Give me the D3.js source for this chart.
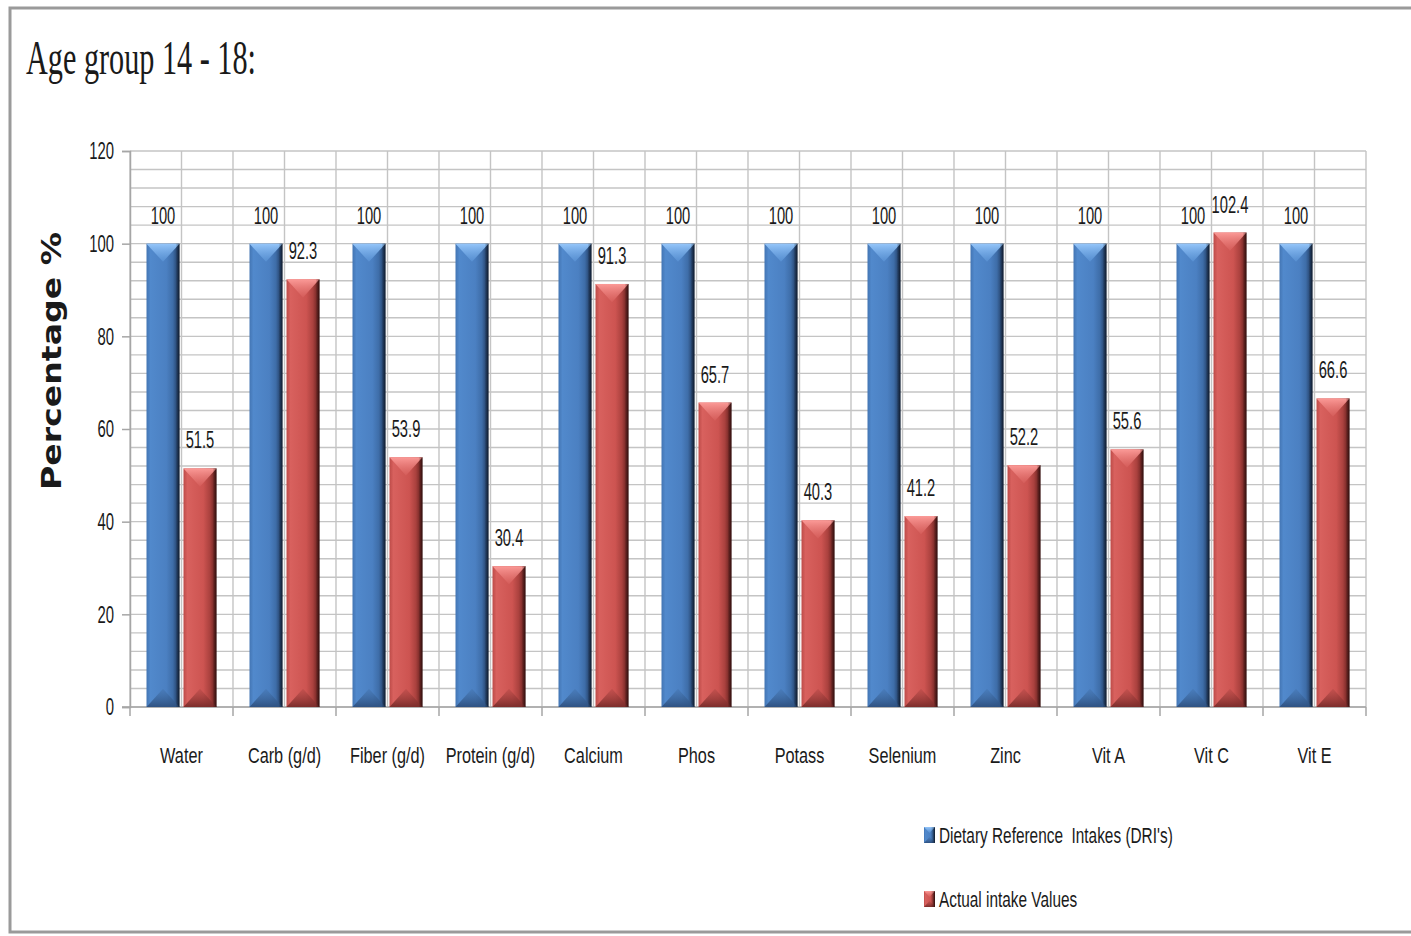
<!DOCTYPE html>
<html>
<head>
<meta charset="utf-8">
<script src="https://cdn.jsdelivr.net/npm/d3@7/dist/d3.min.js"></script>
<style>
  html, body { margin: 0; padding: 0; background: #fff; }
  svg { display: block; }
  text { font-family: "Liberation Sans", Arial, sans-serif; fill: #1a1a1a; }
</style>
</head>
<body>
<svg id="chart" width="1411" height="936"></svg>
<script>
// Nutrient categories and the two series plotted per category (% of DRI)
const categories = ["Water", "Carb (g/d)", "Fiber (g/d)", "Protein (g/d)", "Calcium", "Phos",
                    "Potass", "Selenium", "Zinc", "Vit A", "Vit C", "Vit E"];
const driValues    = [100, 100, 100, 100, 100, 100, 100, 100, 100, 100, 100, 100];
const actualValues = [51.5, 92.3, 53.9, 30.4, 91.3, 65.7, 40.3, 41.2, 52.2, 55.6, 102.4, 66.6];
const seriesNames  = ["Dietary Reference  Intakes (DRI's)", "Actual intake Values"];
const yTicks       = [0, 20, 40, 60, 80, 100, 120];
const yMinorStep   = 4;

const svg = d3.select("#chart");
const W = 1411, H = 936;
const plot = { left: 130, right: 1366, top: 151, bottom: 707 };

// narrow the text horizontally around its anchor x, keeping its height
function squeeze(sel, k) {
  sel.each(function () {
    const x = +(this.getAttribute("x") || 0);
    const prev = this.getAttribute("transform") || "";
    this.setAttribute("transform",
      `${prev} translate(${x},0) scale(${k},1) translate(${-x},0)`.trim());
  });
  return sel;
}

// ---- gradients for the bevelled bars
const defs = svg.append("defs");
const palettes = [
  { id: "blue", stops: ["#4375b3", "#5189cc", "#4b80c2", "#3e6da8", "#1c3152"],
    top: ["#95c6fa", "#5d97d9"], bottom: ["#3f6ca3", "#2f5282"] },
  { id: "red", stops: ["#bd4b48", "#d8615e", "#cd5451", "#aa413e", "#571b19"],
    top: ["#fb9a97", "#d9625f"], bottom: ["#a3403e", "#7c2d2b"] }
];
palettes.forEach(p => {
  const g = defs.append("linearGradient").attr("id", p.id + "-body")
    .attr("x1", 0).attr("x2", 1).attr("y1", 0).attr("y2", 0);
  [0, 0.12, 0.6, 0.8, 1].forEach((o, i) =>
    g.append("stop").attr("offset", o).attr("stop-color", p.stops[i]));
  const t = defs.append("linearGradient").attr("id", p.id + "-top")
    .attr("x1", 0).attr("x2", 0).attr("y1", 0).attr("y2", 1);
  t.append("stop").attr("offset", 0).attr("stop-color", p.top[0]);
  t.append("stop").attr("offset", 1).attr("stop-color", p.top[1]).attr("stop-opacity", 0.6);
  const b = defs.append("linearGradient").attr("id", p.id + "-bottom")
    .attr("x1", 0).attr("x2", 0).attr("y1", 0).attr("y2", 1);
  b.append("stop").attr("offset", 0).attr("stop-color", p.bottom[0]).attr("stop-opacity", 0.3);
  b.append("stop").attr("offset", 1).attr("stop-color", p.bottom[1]);
  const s = defs.append("linearGradient").attr("id", p.id + "-side")
    .attr("x1", 0).attr("x2", 1).attr("y1", 0).attr("y2", 0);
  s.append("stop").attr("offset", 0).attr("stop-color", "#000").attr("stop-opacity", 0);
  s.append("stop").attr("offset", 1).attr("stop-color", "#000").attr("stop-opacity", 0.45);
});

// ---- outer frame
svg.append("rect").attr("x", 10).attr("y", 8).attr("width", W + 10).attr("height", 924)
  .attr("fill", "#fff").attr("stroke", "#9a9a9a").attr("stroke-width", 3);

// ---- title
svg.append("text").attr("x", 26).attr("y", 74)
  .style("font-family", "'Liberation Serif', 'DejaVu Serif', serif")
  .style("font-size", "48px")
  .attr("textLength", 230).attr("lengthAdjust", "spacingAndGlyphs")
  .text("Age group 14 - 18:");

// ---- scales
const x0 = d3.scaleBand().domain(categories).range([plot.left, plot.right]).padding(0);
const x1 = d3.scaleBand().domain([0, 1]).range([0, x0.bandwidth()])
  .paddingInner(0.108).paddingOuter(0.446);
const y = d3.scaleLinear().domain([0, 120]).range([plot.bottom, plot.top]);

// ---- gridlines
const grid = svg.append("g").attr("stroke", "#c4c4c4").attr("stroke-width", 1.4);
grid.selectAll("line.h").data(d3.range(0, 120 + 0.001, yMinorStep)).join("line")
  .attr("x1", plot.left).attr("x2", plot.right)
  .attr("y1", d => y(d)).attr("y2", d => y(d));
const halfSteps = d3.range(0, categories.length * 2 + 1);
grid.selectAll("line.v").data(halfSteps).join("line")
  .attr("x1", d => plot.left + d * x0.step() / 2).attr("x2", d => plot.left + d * x0.step() / 2)
  .attr("y1", plot.top).attr("y2", plot.bottom);

// ---- axes
const yAxis = d3.axisLeft(y).tickValues(yTicks).tickSize(8).tickPadding(8);
const gy = svg.append("g").attr("transform", `translate(${plot.left},0)`).call(yAxis);
gy.select(".domain").attr("stroke", "#a6a6a6").attr("stroke-width", 1.5);
gy.selectAll(".tick line").attr("stroke", "#a6a6a6").attr("stroke-width", 1.5);
gy.selectAll(".tick text").style("font-size", "24px").attr("fill", "#1a1a1a")
  .style("font-family", "'Liberation Sans', Arial, sans-serif");
squeeze(gy.selectAll(".tick text"), 0.62);

const xAxis = d3.axisBottom(x0).tickSize(0).tickPadding(40);
const gx = svg.append("g").attr("transform", `translate(0,${plot.bottom})`).call(xAxis);
gx.select(".domain").remove();
gx.selectAll(".tick text").style("font-size", "22px").attr("fill", "#1a1a1a")
  .style("font-family", "'Liberation Sans', Arial, sans-serif");
squeeze(gx.selectAll(".tick text"), 0.74);
// category boundary ticks under the baseline
svg.append("g").selectAll("line").data(d3.range(0, categories.length + 1)).join("line")
  .attr("x1", d => plot.left + d * x0.step()).attr("x2", d => plot.left + d * x0.step())
  .attr("y1", plot.bottom).attr("y2", plot.bottom + 9)
  .attr("stroke", "#a6a6a6").attr("stroke-width", 1.5);
svg.append("line").attr("x1", plot.left - 8).attr("x2", plot.right)
  .attr("y1", plot.bottom).attr("y2", plot.bottom)
  .attr("stroke", "#a6a6a6").attr("stroke-width", 1.5);

// ---- y axis title
svg.append("text")
  .attr("transform", `translate(61,361) rotate(-90)`)
  .attr("text-anchor", "middle")
  .style("font-family", "'DejaVu Sans', Verdana, sans-serif")
  .style("font-weight", "bold").style("font-size", "26px")
  .attr("textLength", 258).attr("lengthAdjust", "spacingAndGlyphs")
  .text("Percentage %");

// ---- bevelled bar drawing
function drawBar(g, x, yTop, w, yBase, pal) {
  const h = yBase - yTop;
  g.append("rect").attr("x", x).attr("y", yTop).attr("width", w).attr("height", h)
    .attr("fill", `url(#${pal}-body)`);
  const th = Math.min(w * 0.55, h / 2);
  g.append("path")
    .attr("d", `M${x},${yTop}L${x + w},${yTop}L${x + w / 2},${yTop + th}Z`)
    .attr("fill", `url(#${pal}-top)`);
  const bh = Math.min(w * 0.55, h / 2);
  g.append("path")
    .attr("d", `M${x},${yBase}L${x + w},${yBase}L${x + w / 2},${yBase - bh}Z`)
    .attr("fill", `url(#${pal}-bottom)`);
  g.append("rect").attr("x", x + w - 4).attr("y", yTop).attr("width", 4).attr("height", h)
    .attr("fill", `url(#${pal}-side)`);
}

const series = [driValues, actualValues];
const pals = ["blue", "red"];
const barsG = svg.append("g");
series.forEach((vals, si) => {
  vals.forEach((v, i) => {
    const bx = x0(categories[i]) + x1(si);
    drawBar(barsG, bx, y(v), x1.bandwidth(), y(0), pals[si]);
  });
});

// ---- value labels
const labelsG = svg.append("g");
series.forEach((vals, si) => {
  const t = labelsG.selectAll(null).data(vals).join("text")
    .attr("x", (d, i) => x0(categories[i]) + x1(si) + x1.bandwidth() / 2)
    .attr("y", d => y(d) - 20)
    .attr("text-anchor", "middle")
    .style("font-size", "23px")
    .text(d => d3.format("")(d));
  squeeze(t, 0.64);
});

// ---- legend
const legend = svg.append("g");
seriesNames.forEach((name, i) => {
  const ly = 835 + i * 64;
  drawBar(legend, 924, ly - 8, 11, ly + 8, pals[i]);
  const t = legend.append("text").attr("x", 939).attr("y", ly + 8)
    .style("font-size", "22px").style("white-space", "pre").text(name);
  squeeze(t, 0.7);
});
</script>
</body>
</html>
